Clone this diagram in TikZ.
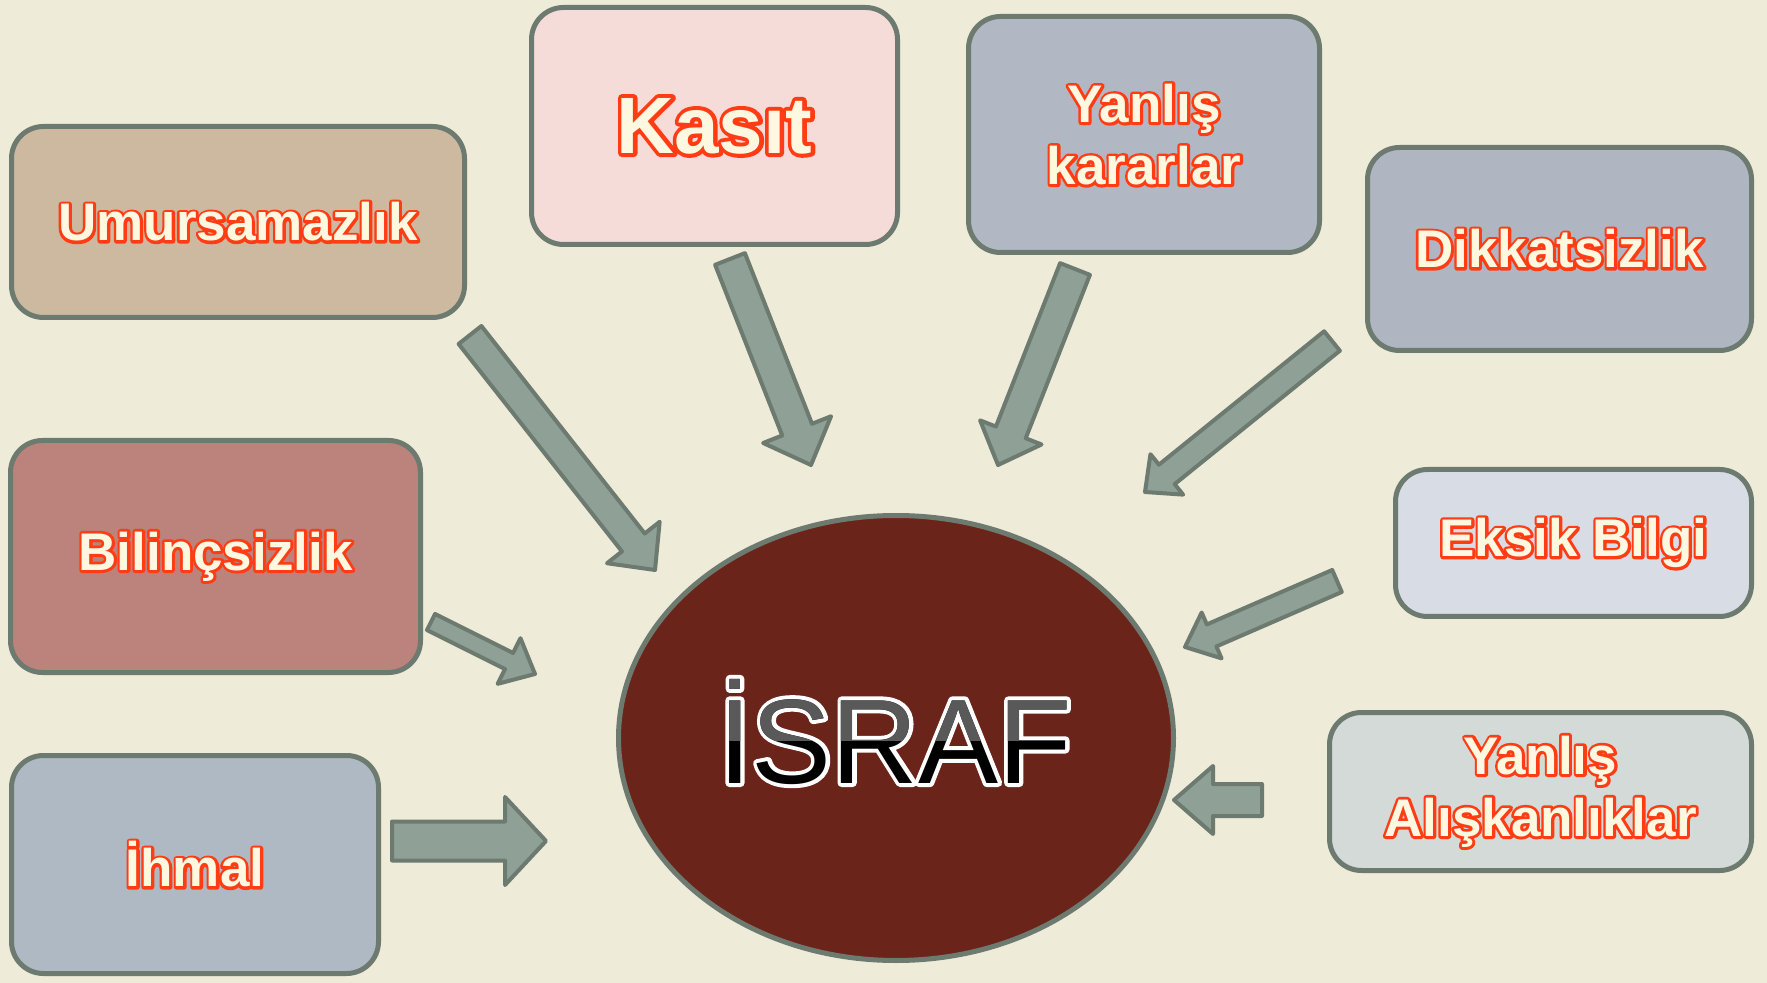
\documentclass[tikz,border=0pt]{standalone}
\usepackage{fontspec}
\setmainfont{Liberation Sans}
\usetikzlibrary{calc,shapes.geometric}
\definecolor{bgcream}{HTML}{EEEBD9}
\definecolor{edgegray}{HTML}{6D7A70}
\definecolor{arrowfill}{HTML}{8FA196}
\definecolor{txtcream}{HTML}{FDF8DF}
\definecolor{txtred}{HTML}{FF3C14}
\definecolor{cUmur}{HTML}{CDB9A0}
\definecolor{cKasit}{HTML}{F6DCD8}
\definecolor{cYk}{HTML}{B1B8C4}
\definecolor{cDikkat}{HTML}{AFB5C1}
\definecolor{cEksik}{HTML}{D8DCE4}
\definecolor{cYa}{HTML}{D3DAD7}
\definecolor{cBilinc}{HTML}{BB837B}
\definecolor{cIhmal}{HTML}{AFB9C4}
\definecolor{cEllipse}{HTML}{6B2419}
\definecolor{israfgray}{HTML}{595959}
% outlined text: stroked copy underneath, filled copy on top
\newcommand\strokedtext[3]{\leavevmode\rlap{\color{#1}\special{pdf:literal direct 1 Tr #2 w 1 j}#3\special{pdf:literal direct 0 Tr}}#3}
\newcommand\boxtext[1]{\strokedtext{txtred}{2.8}{#1}}
\newcommand\blockarrow[5]{%
  \coordinate (ba-b) at ($(#2)!#5!(#1)$);
  \draw[arrowstyle] ($(#1)!#3!90:(#2)$) -- ($(ba-b)!#3!90:(#2)$) -- ($(ba-b)!#4!90:(#2)$) -- (#2)
    -- ($(ba-b)!#4!-90:(#2)$) -- ($(ba-b)!#3!-90:(#2)$) -- ($(#1)!#3!-90:(#2)$) -- cycle;
}
\begin{document}
\begin{tikzpicture}[x=0.5pt,y=-0.5pt,
  boxstyle/.style={draw=edgegray, line width=2.5pt, rounded corners=16pt, inner sep=0pt,
    text=txtcream, font=\bfseries\fontsize{26.5}{31}\selectfont, align=center},
  arrowstyle/.style={draw=edgegray, fill=arrowfill, line width=2pt, line join=round},
  israfstyle/.style={anchor=base, inner sep=0pt, font=\fontsize{60}{70}\selectfont}]
\useasboundingbox (0,0) rectangle (1767,983);
\fill[bgcream] (0,0) rectangle (1767,983);

% boxes
\node[boxstyle, fill=cUmur, minimum width=226.5pt, minimum height=95.5pt] (umur) at (238,222) {\boxtext{Umursamazlık}};
\node[boxstyle, fill=cKasit, minimum width=183pt, minimum height=118.5pt, font=\bfseries\fontsize{40}{46}\selectfont] (kasit) at (714.5,126) {\strokedtext{txtred}{4}{Kasıt}};
\node[boxstyle, fill=cYk, minimum width=175.5pt, minimum height=118pt] (yk) at (1144,134.5) {\boxtext{Yanlış}\\\boxtext{kararlar}};
\node[boxstyle, fill=cDikkat, minimum width=192pt, minimum height=101.5pt] (dikkat) at (1559.5,249) {\boxtext{Dikkatsizlik}};
\node[boxstyle, fill=cEksik, minimum width=178pt, minimum height=73.5pt] (eksik) at (1573.5,543) {\boxtext{Eksik Bilgi}};
\node[boxstyle, fill=cYa, minimum width=211pt, minimum height=79pt] (ya) at (1540.5,791.5) {\boxtext{Yanlış}\\\boxtext{Alışkanlıklar}};
\node[boxstyle, fill=cBilinc, minimum width=205pt, minimum height=116pt] (bilinc) at (215.5,556.5) {\boxtext{Bilinçsizlik}};
\node[boxstyle, fill=cIhmal, minimum width=183.5pt, minimum height=109pt] (ihmal) at (195,864.5) {\boxtext{İhmal}};

% central ellipse
\node[ellipse, draw=edgegray, fill=cEllipse, line width=2.5pt, inner sep=0pt,
  minimum width=277.5pt, minimum height=222.5pt] (israf) at (896,738) {};
\node[israfstyle, text=black] (isr) at (895,783) {\strokedtext{white}{4}{İSRAF}};
\begin{scope}
  \clip (600,500) rectangle (1200,740);
  \node[israfstyle, text=israfgray] (isrtop) at (895,783) {İSRAF};
\end{scope}

% arrows
\coordinate (t1) at (470,335);  \coordinate (p1) at (655,570);
\coordinate (t2) at (730,259);  \coordinate (p2) at (811,465);
\coordinate (t3) at (1075,269); \coordinate (p3) at (998,465);
\coordinate (t4) at (1332,341); \coordinate (p4) at (1145,492);
\coordinate (t5) at (1337,581); \coordinate (p5) at (1185,647);
\coordinate (t6) at (1262,800); \coordinate (p6) at (1174,800);
\coordinate (t7) at (431,622);  \coordinate (p7) at (535,674);
\coordinate (t8) at (392,841);  \coordinate (p8) at (546,841);
\blockarrow{t1}{p1}{7.25pt}{16.75pt}{17.5pt}
\blockarrow{t2}{p2}{8pt}{18.25pt}{19pt}
\blockarrow{t3}{p3}{8pt}{16.5pt}{17.5pt}
\blockarrow{t4}{p4}{6.25pt}{13pt}{14pt}
\blockarrow{t5}{p5}{6pt}{12.5pt}{14.5pt}
\blockarrow{t6}{p6}{8pt}{17pt}{19.5pt}
\blockarrow{t7}{p7}{4.5pt}{12.75pt}{14.5pt}
\blockarrow{t8}{p8}{9.75pt}{22pt}{20.5pt}
\end{tikzpicture}
\end{document}
